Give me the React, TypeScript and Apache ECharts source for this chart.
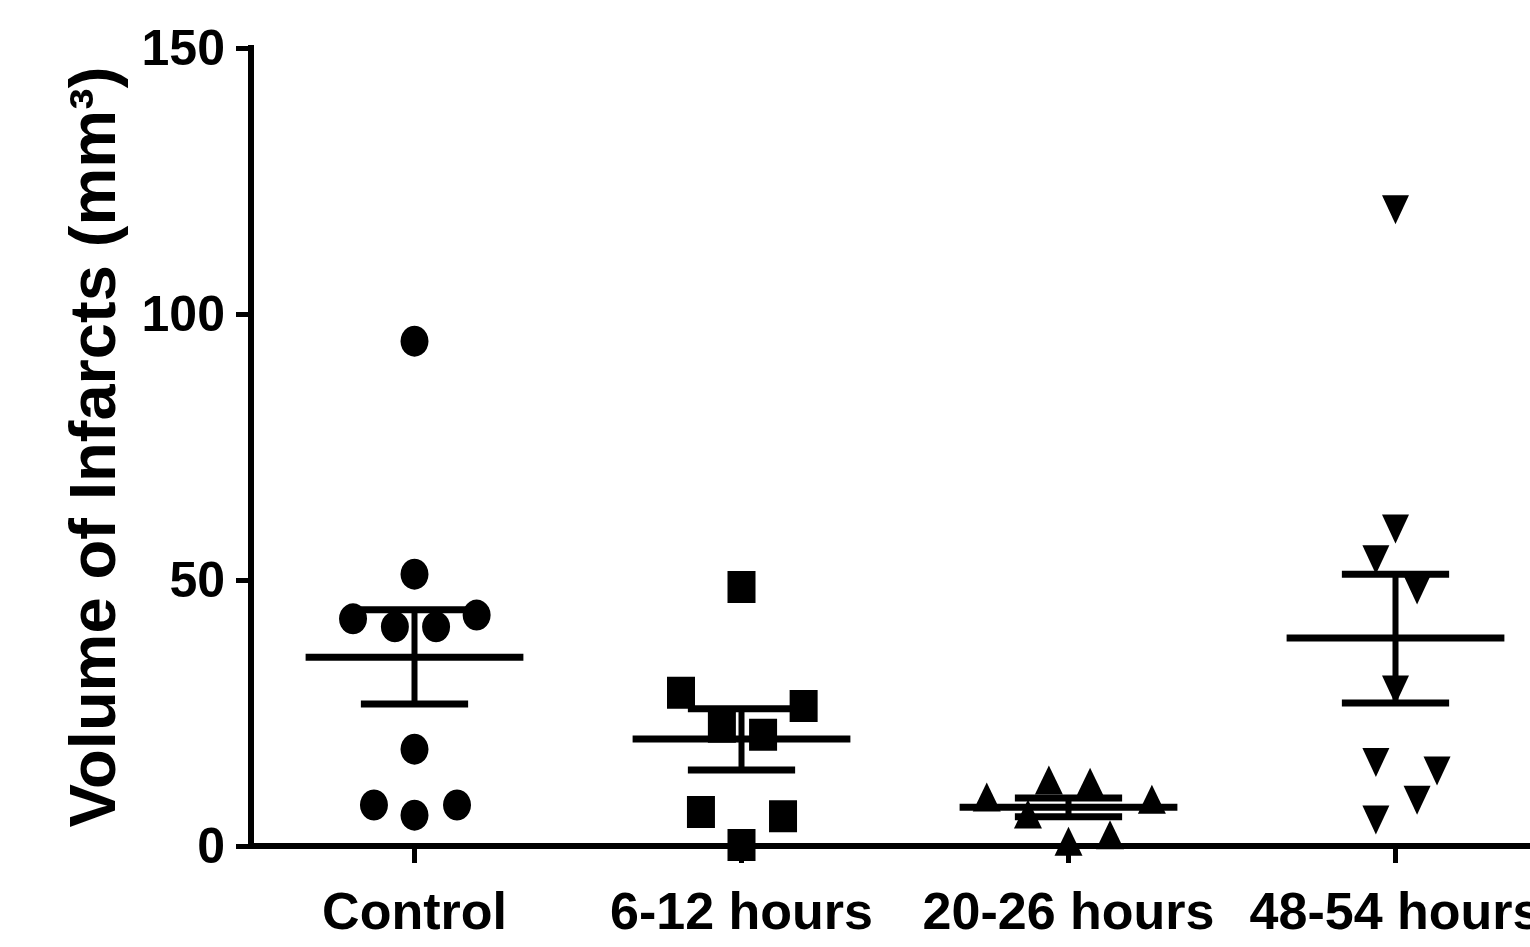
import React, { useEffect, useRef } from "react";
import * as echarts from "echarts";

const categories = ["Control", "6-12 hours", "20-26 hours", "48-54 hours"];
const categoryPositions = [0, 1, 2, 3];
const yTicks = { min: 0, max: 150, interval: 50 };

const controlValues = [94.9, 51.1, 42.7, 41.2, 41.2, 43.4, 18.2, 7.7, 7.7, 5.8];
const controlJitter = [0, 0, -0.188, -0.06, 0.066, 0.19, 0, -0.124, 0.13, 0];

const sixTwelveValues = [48.7, 28.8, 26.3, 22.4, 20.9, 6.4, 5.6, 0.2];
const sixTwelveJitter = [0, -0.185, 0.19, -0.06, 0.066, -0.124, 0.127, 0];

const twentyValues = [9.2, 12.4, 12.0, 8.8, 6.0, 0.9, 2.1];
const twentyJitter = [-0.25, -0.06, 0.066, 0.255, -0.124, 0, 0.127];

const fortyEightValues = [119.6, 59.6, 53.8, 48.1, 29.3, 15.7, 14.1, 8.6, 4.9];
const fortyEightJitter = [0, 0, -0.06, 0.066, 0, -0.06, 0.127, 0.066, -0.06];

const means = [35.5, 20.1, 7.3, 39.1];
const semLower = [26.7, 14.3, 5.5, 26.9];
const semUpper = [44.4, 25.8, 9.0, 51.1];

const FONT = "'Liberation Sans', Arial, Helvetica, sans-serif";

function pts(values: number[], jitter: number[], g: number) {
  return values.map((v, i) => [g + jitter[i], v]);
}

export default function App() {
  const ref = useRef<HTMLDivElement>(null);
  useEffect(() => {
    if (!ref.current) return;
    const chart = echarts.init(ref.current, null, { renderer: "svg" });
    const black = "#000";
    const mark = { color: black, opacity: 1 };
    // category band = 327px; plot runs off the right edge of the picture
    const xMin = -0.5;
    const xMax = -0.5 + 1279 / 327;
    const option: any = {
      animation: false,
      backgroundColor: "#fff",
      grid: { left: 251, top: 48, right: 0, bottom: 101, containLabel: false, outerBoundsMode: "none" },
      xAxis: {
        type: "value",
        min: xMin,
        max: xMax,
        axisLine: { show: true, onZero: false, lineStyle: { color: black, width: 6 } },
        axisTick: {
          show: true,
          customValues: categoryPositions,
          length: 17,
          lineStyle: { color: black, width: 5 },
        },
        axisLabel: {
          customValues: categoryPositions,
          formatter: (v: number) => categories[Math.round(v)] ?? "",
          color: black,
          fontSize: 52,
          fontWeight: "bold",
          fontFamily: FONT,
          margin: 39,
          showMinLabel: true,
          showMaxLabel: true,
          hideOverlap: false,
        },
        splitLine: { show: false },
      },
      yAxis: {
        type: "value",
        min: yTicks.min,
        max: yTicks.max,
        interval: yTicks.interval,
        name: "Volume of Infarcts (mm³)",
        nameLocation: "middle",
        nameRotate: 90,
        nameGap: 126,
        nameTextStyle: { color: black, fontSize: 65, fontWeight: "bold", fontFamily: FONT },
        axisLine: { show: true, onZero: false, lineStyle: { color: black, width: 6, cap: "square" } },
        axisTick: { show: true, length: 15, lineStyle: { color: black, width: 5 } },
        axisLabel: { color: black, fontSize: 50, fontWeight: "bold", fontFamily: FONT, margin: 26 },
        splitLine: { show: false },
      },
      series: [
        {
          type: "custom",
          data: means.map((m, i) => [categoryPositions[i], m, semLower[i], semUpper[i]]),
          encode: { x: 0, y: [1, 2, 3] },
          renderItem: (params: any, api: any) => {
            const x = api.value(0);
            const pm = api.coord([x, api.value(1)]);
            const plo = api.coord([x, api.value(2)]);
            const phi = api.coord([x, api.value(3)]);
            const band = api.size([1, 0])[0];
            const hw = band * 0.333;
            const cw = band * 0.164;
            const st = { stroke: black, lineWidth: 7 };
            return {
              type: "group",
              children: [
                { type: "line", shape: { x1: pm[0] - hw, y1: pm[1], x2: pm[0] + hw, y2: pm[1] }, style: st },
                { type: "line", shape: { x1: phi[0], y1: phi[1], x2: plo[0], y2: plo[1] }, style: { stroke: black, lineWidth: 6 } },
                { type: "line", shape: { x1: phi[0] - cw, y1: phi[1], x2: phi[0] + cw, y2: phi[1] }, style: st },
                { type: "line", shape: { x1: plo[0] - cw, y1: plo[1], x2: plo[0] + cw, y2: plo[1] }, style: st },
              ],
            };
          },
        },
        {
          type: "scatter",
          symbol: "circle",
          symbolSize: [28, 31],
          itemStyle: mark,
          data: pts(controlValues, controlJitter, 0),
        },
        {
          type: "scatter",
          symbol: "rect",
          symbolSize: [28, 32],
          itemStyle: mark,
          data: pts(sixTwelveValues, sixTwelveJitter, 1),
        },
        {
          type: "scatter",
          symbol: "triangle",
          symbolSize: [28, 29],
          itemStyle: mark,
          data: pts(twentyValues, twentyJitter, 2),
        },
        {
          type: "scatter",
          symbol: "triangle",
          symbolRotate: 180,
          symbolSize: [27, 29],
          itemStyle: mark,
          data: pts(fortyEightValues, fortyEightJitter, 3),
        },
      ],
    };
    chart.setOption(option);
    return () => chart.dispose();
  }, []);
  return (
    <div
      ref={ref}
      style={{ position: "fixed", left: 0, top: 0, width: 1530, height: 947, background: "#fff" }}
    />
  );
}
